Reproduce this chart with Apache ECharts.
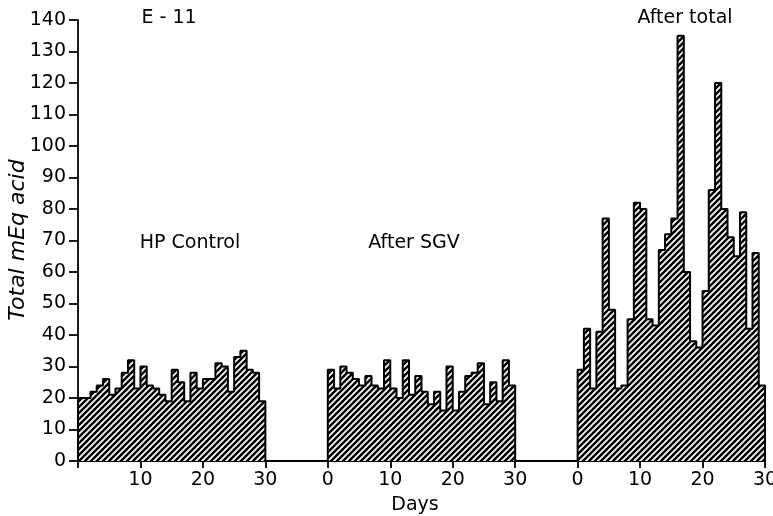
<!DOCTYPE html>
<html>
<head>
<meta charset="utf-8">
<script src="https://cdn.jsdelivr.net/npm/echarts@6.0.0/dist/echarts.min.js"></script>
<style>
  html, body { margin: 0; padding: 0; background: #fff; }
  #cn { width: 773px; height: 516px; }
</style>
</head>
<body>
<div id="cn"></div>
<script>
'use strict';

// daily total mEq acid, one value per day (30 days per period)
const hpControl = [20, 20, 22, 24, 26, 21, 23, 28, 32, 23, 30, 24, 23, 21, 19, 29, 25, 19, 28, 23, 26, 26, 31, 30, 22, 33, 35, 29, 28, 19];
const afterSGV = [29, 23, 30, 28, 26, 24, 27, 24, 23, 32, 23, 20, 32, 21, 27, 22, 18, 22, 16, 30, 16, 22, 27, 28, 31, 18, 25, 19, 32, 24];
const afterTotal = [29, 42, 23, 41, 77, 48, 23, 24, 45, 82, 80, 45, 43, 67, 72, 77, 135, 60, 38, 36, 54, 86, 120, 80, 71, 65, 79, 42, 66, 24];

// start day of each period on the shared x axis (10 day gap between periods)
const periodStart = [0, 40, 80];
const periodNames = ['HP Control', 'After SGV', 'After total'];

const FONT = 'DejaVu Sans';

/**
 * diagonal hatch tile
 */
const makeHatch = () => {
    const c = document.createElement('canvas');
    c.width = 6;
    c.height = 6;
    const ctx = c.getContext('2d');
    ctx.fillStyle = '#fff';
    ctx.fillRect(0, 0, 6, 6);
    ctx.strokeStyle = '#000';
    ctx.lineWidth = 2.5;
    ctx.beginPath();
    ctx.moveTo(0, 6); ctx.lineTo(6, 0);
    ctx.moveTo(-1, 1); ctx.lineTo(1, -1);
    ctx.moveTo(5, 7); ctx.lineTo(7, 5);
    ctx.stroke();
    return c;
};

// histogram outline as step line: [start,0], [start+i, v_i] ..., [end, last], [end, 0]
const toSteps = (values, start) => {
    let pts = [[start, 0]];
    for (let i = 0; i < values.length; i++) {
        pts.push([start + i, values[i]]);
    }
    pts.push([start + values.length, values[values.length - 1]]);
    pts.push([start + values.length, 0]);
    return pts;
};

const hatch = makeHatch();
const chart = echarts.init(document.getElementById('cn'));

const series = [hpControl, afterSGV, afterTotal].map((vals, k) => ({
    name: periodNames[k],
    type: 'line',
    step: 'end',
    data: toSteps(vals, periodStart[k]),
    showSymbol: false,
    symbol: 'none',
    animation: false,
    lineStyle: {
        color: '#000',
        width: 2
    },
    areaStyle: {
        color: { image: hatch, repeat: 'repeat' },
        opacity: 1
    }
}));

let option = {
    backgroundColor: '#fff',
    animation: false,
    grid: {
        left: 78,
        top: 20,
        right: 8,
        bottom: 55,
        containLabel: false,
        outerBoundsMode: 'none'
    },
    xAxis: {
        type: 'value',
        min: 0,
        max: 110,
        interval: 10,
        splitLine: { show: false },
        axisLine: { onZero: false, lineStyle: { color: '#000', width: 1.8 } },
        axisTick: { length: 7, lineStyle: { color: '#000', width: 1.8 } },
        axisLabel: {
            color: '#000',
            fontFamily: FONT,
            fontSize: 19,
            margin: 10,
            formatter: v => {
                if (v === 0) return '';
                if (v <= 30) return String(v);
                if (v <= 70) return String(v - 40);
                return String(v - 80);
            }
        }
    },
    yAxis: {
        type: 'value',
        min: 0,
        max: 140,
        interval: 10,
        splitLine: { show: false },
        axisLine: { show: true, lineStyle: { color: '#000', width: 1.8 } },
        axisTick: { show: true, length: 9, lineStyle: { color: '#000', width: 1.8 } },
        axisLabel: {
            color: '#000',
            fontFamily: FONT,
            fontSize: 19,
            margin: 12
        }
    },
    graphic: [
        { type: 'text', x: 169, y: 18, style: { text: 'E - 11', fill: '#000', font: `19px "${FONT}"`, align: 'center', verticalAlign: 'middle' } },
        { type: 'text', x: 685, y: 18, style: { text: periodNames[2], fill: '#000', font: `19px "${FONT}"`, align: 'center', verticalAlign: 'middle' } },
        { type: 'text', x: 190, y: 243, style: { text: periodNames[0], fill: '#000', font: `19px "${FONT}"`, align: 'center', verticalAlign: 'middle' } },
        { type: 'text', x: 414, y: 243, style: { text: periodNames[1], fill: '#000', font: `19px "${FONT}"`, align: 'center', verticalAlign: 'middle' } },
        { type: 'text', x: 415, y: 505, style: { text: 'Days', fill: '#000', font: `19px "${FONT}"`, align: 'center', verticalAlign: 'middle' } },
        { type: 'text', x: 18, y: 240, rotation: Math.PI / 2, style: { text: 'Total mEq acid', fill: '#000', font: `italic 22px "${FONT}"`, align: 'center', verticalAlign: 'middle' } }
    ],
    series: series
};

chart.setOption(option);
</script>
</body>
</html>
